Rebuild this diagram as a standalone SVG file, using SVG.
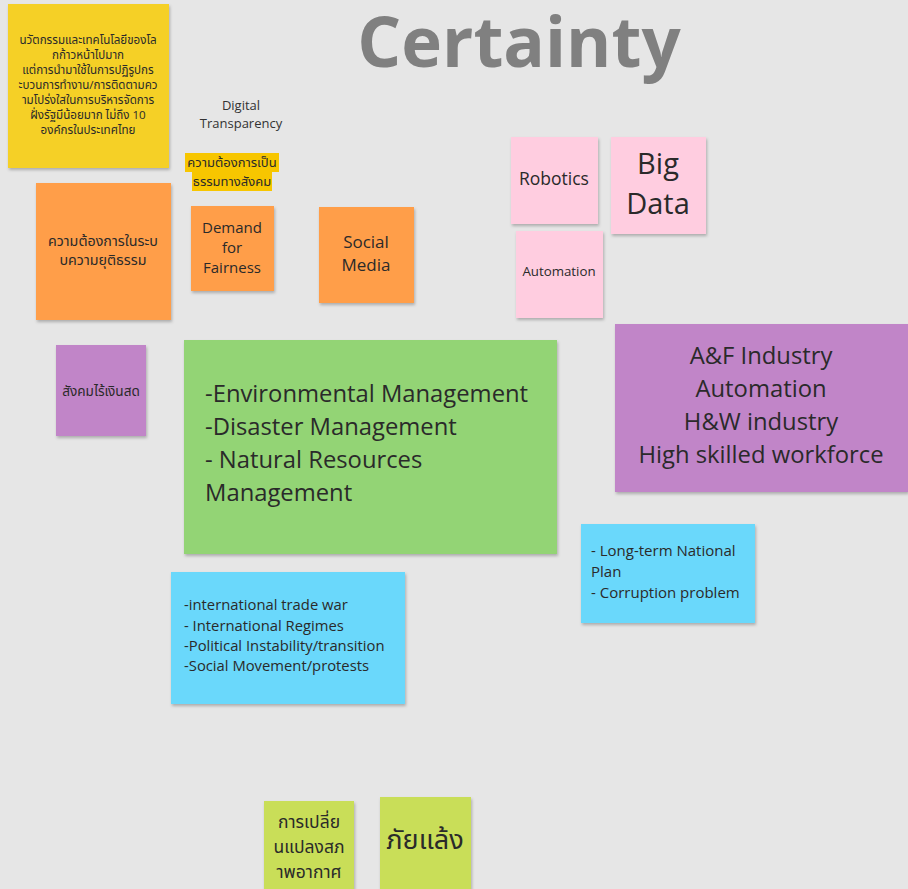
<svg xmlns="http://www.w3.org/2000/svg" width="908" height="889" viewBox="0 0 908 889">
<defs>
<filter id="sh" x="-10%" y="-10%" width="125%" height="130%">
<feDropShadow dx="1" dy="2" stdDeviation="1.5" flood-color="#000" flood-opacity="0.25"/>
</filter>
<style>
text{font-family:"Open Sans","Noto Sans Thai","Noto Sans","DejaVu Sans",sans-serif;fill:#2a2a2a}
.c{text-anchor:middle}
.note{filter:url(#sh)}
.yel{fill:#f5d028}
.org{fill:#ff9e48}
.pnk{fill:#ffcde0}
.pur{fill:#c185c8}
.grn{fill:#93d475}
.blu{fill:#6bd8fb}
.lim{fill:#c9de58}
</style>
</defs>
<rect width="908" height="889" fill="#e6e6e6"/>
<text id="title" x="519" y="67" class="c" font-size="69" font-weight="bold" style="fill:#808080">Certainty</text>
<g id="connectors"/>
<g id="n-yellow">
<rect class="note yel" x="8" y="4" width="161" height="164"/>
<g class="c" font-size="11.6">
<text x="88" y="44">นวัตกรรมและเทคโนโลยีของโล</text>
<text x="88" y="59">กก้าวหน้าไปมาก</text>
<text x="88" y="74">แต่การนำมาใช้ในการปฏิรูปกร</text>
<text x="88" y="89">ะบวนการทำงาน/การติดตามคว</text>
<text x="88" y="104">ามโปร่งใสในการบริหารจัดการ</text>
<text x="88" y="119">ฝั่งรัฐมีน้อยมาก ไม่ถึง 10</text>
<text x="88" y="134">องค์กรในประเทศไทย</text>
</g>
</g>
<g id="n-digital">
<text x="241" y="110" class="c" font-size="13" style="fill:#333">Digital</text>
<text x="241" y="128" class="c" font-size="13" style="fill:#333">Transparency</text>
</g>
<g id="n-highlight">
<rect x="185" y="153" width="94" height="19" fill="#f7c600"/>
<rect x="192" y="172" width="80" height="19" fill="#f7c600"/>
<text x="232" y="167" class="c" font-size="13">ความต้องการเป็น</text>
<text x="232" y="186" class="c" font-size="13">ธรรมทางสังคม</text>
</g>
<g id="n-justice">
<rect class="note org" x="36" y="183" width="135" height="137"/>
<text x="103" y="246" class="c" font-size="14.3">ความต้องการในระบ</text>
<text x="103" y="265" class="c" font-size="14.3">บความยุติธรรม</text>
</g>
<g id="n-fairness">
<rect class="note org" x="191" y="206" width="83" height="85"/>
<text x="232" y="233" class="c" font-size="15">Demand</text>
<text x="232" y="253" class="c" font-size="15">for</text>
<text x="232" y="273" class="c" font-size="15">Fairness</text>
</g>
<g id="n-social">
<rect class="note org" x="319" y="207" width="95" height="96"/>
<text x="366" y="248" class="c" font-size="17">Social</text>
<text x="366" y="271" class="c" font-size="17">Media</text>
</g>
<g id="n-robotics">
<rect class="note pnk" x="511" y="137" width="87" height="87"/>
<text x="554" y="185" class="c" font-size="17.5">Robotics</text>
</g>
<g id="n-bigdata">
<rect class="note pnk" x="611" y="137" width="95" height="97"/>
<text x="658" y="174" class="c" font-size="29">Big</text>
<text x="658" y="214" class="c" font-size="29">Data</text>
</g>
<g id="n-automation">
<rect class="note pnk" x="516" y="231" width="87" height="87"/>
<text x="559" y="276" class="c" font-size="13.3">Automation</text>
</g>
<g id="n-cashless">
<rect class="note pur" x="56" y="345" width="90" height="91"/>
<text x="101" y="396" class="c" font-size="13.6">สังคมไร้เงินสด</text>
</g>
<g id="n-env">
<rect class="note grn" x="184" y="340" width="373" height="214"/>
<g font-size="23.8">
<text x="205" y="402">-Environmental Management</text>
<text x="205" y="435">-Disaster Management</text>
<text x="205" y="468">- Natural Resources</text>
<text x="205" y="501">Management</text>
</g>
</g>
<g id="n-industry">
<rect class="note pur" x="615" y="324" width="293" height="168"/>
<g class="c" font-size="23.8">
<text x="761" y="364">A&amp;F Industry</text>
<text x="761" y="397">Automation</text>
<text x="761" y="430">H&amp;W industry</text>
<text x="761" y="463">High skilled workforce</text>
</g>
</g>
<g id="n-intl">
<rect class="note blu" x="171" y="572" width="234" height="132"/>
<g font-size="14.8">
<text x="184" y="610">-international trade war</text>
<text x="184" y="631">- International Regimes</text>
<text x="184" y="651">-Political Instability/transition</text>
<text x="184" y="671">-Social Movement/protests</text>
</g>
</g>
<g id="n-plan">
<rect class="note blu" x="581" y="524" width="174" height="99"/>
<g font-size="15">
<text x="591" y="556">- Long-term National</text>
<text x="591" y="577">Plan</text>
<text x="591" y="598">- Corruption problem</text>
</g>
</g>
<g id="n-climate">
<rect class="note lim" x="264" y="801" width="90" height="92"/>
<g class="c" font-size="17.5">
<text x="309" y="828">การเปลี่ย</text>
<text x="309" y="853">นแปลงสภ</text>
<text x="309" y="878">าพอากาศ</text>
</g>
</g>
<g id="n-drought">
<rect class="note lim" x="380" y="797" width="91" height="96"/>
<text x="425" y="849" class="c" font-size="27">ภัยแล้ง</text>
</g>
</svg>
